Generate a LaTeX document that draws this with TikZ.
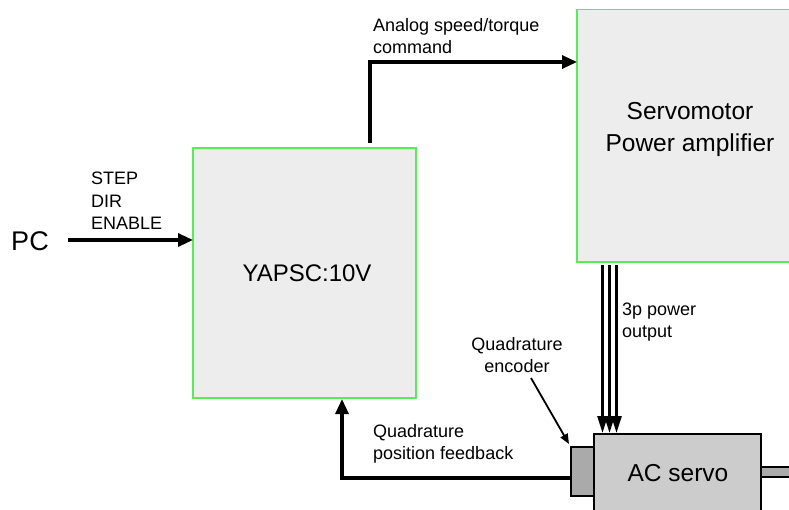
\documentclass[tikz,border=0pt]{standalone}
\usepackage{fontspec}
\setmainfont{Liberation Sans}
\usetikzlibrary{arrows.meta}
\definecolor{boxgreen}{HTML}{55EE55}
\definecolor{boxfill}{HTML}{EDEDED}
\definecolor{servofill}{HTML}{CCCCCC}
\definecolor{encfill}{HTML}{AAAAAA}
\begin{document}
\begin{tikzpicture}[x=1pt,y=-1pt,
  ctrlbox/.style={draw=boxgreen,fill=boxfill,line width=1.3pt},
  conn/.style={line width=3.2pt,-{Triangle[length=15pt,width=13pt]}},
  thin/.style={line width=1.8pt,-{Triangle[length=10pt,width=8pt]}},
  pwrarrow/.style={line width=2.6pt,-{Triangle[length=17pt,width=10pt]}},
  lbl/.style={font=\fontsize{18}{22.5}\selectfont,align=left,inner sep=0pt},
]
\useasboundingbox (0,0) rectangle (789,509);
\begin{scope}
\clip (0,0) rectangle (789,509);
\draw[ctrlbox] (193,148) rectangle (416,398);
\node[font=\fontsize{24}{28}\selectfont] (yapsc) at (307,273) {YAPSC:10V};
\draw[ctrlbox] (577,9.5) rectangle (800,262);
\node[font=\fontsize{24.5}{32}\selectfont,align=center] (amp) at (690,129) {Servomotor\\Power amplifier};
\draw[fill=encfill,line width=1.2pt] (761,467) rectangle (800,477);
\draw[fill=servofill,line width=1.2pt] (594,434) rectangle (761,520);
\node[font=\fontsize{24.5}{28}\selectfont] (acs) at (678,473) {AC servo};
\draw[fill=encfill,line width=1.2pt] (571,447) rectangle (594,496);
\coordinate (enc) at (571,478);
\end{scope}
\node[font=\fontsize{27}{30}\selectfont] (pc) at (30,241) {PC};
\coordinate (pcr) at (68,240);
\coordinate (yl) at (193,240);
\draw[conn] (pcr) -- (yl);
\node[lbl,anchor=west] (sde) at (91,201) {STEP\\DIR\\ENABLE};
\coordinate (ytop) at (370,143);
\coordinate (ampl) at (577,62);
\draw[conn] (ytop) -- (370,62) -- (ampl);
\node[lbl,anchor=west] (cmd) at (373,36) {Analog speed/torque\\command};
\foreach \xx [count=\i] in {602.5,609.5,616.5}{
  \coordinate (s\i) at (\xx,265);
  \coordinate (e\i) at (\xx,433);
  \draw[pwrarrow] (s\i) -- (e\i);
}
\node[lbl,anchor=west] (pwr) at (622,322) {3p power\\output};
\node[lbl,align=center] (qe) at (517,355) {Quadrature\\encoder};
\coordinate (qea) at (531,378);
\coordinate (qeb) at (569,444);
\draw[thin] (qea) -- (qeb);
\coordinate (yb) at (342,399);
\draw[conn] (enc) -- (342,478) -- (yb);
\node[lbl,anchor=west] (fb) at (373,444) {Quadrature\\position feedback};
\end{tikzpicture}
\end{document}
